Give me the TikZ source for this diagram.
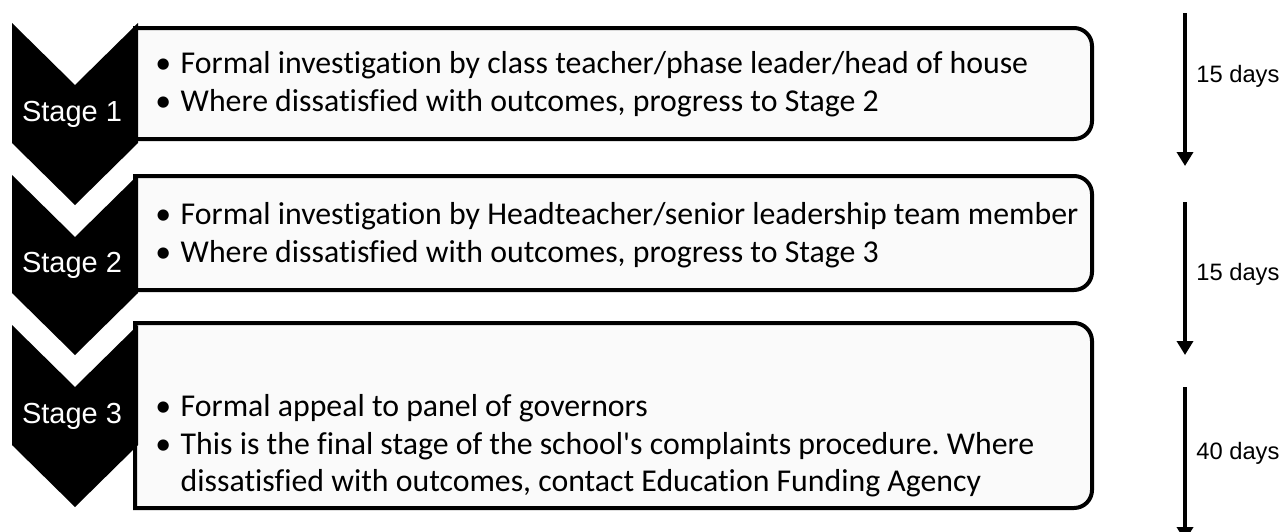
\documentclass[tikz,border=0pt]{standalone}
\usepackage{fontspec}
\setmainfont{Liberation Sans}
\newfontfamily\bodyfont[Ligatures=NoCommon]{Carlito}
\usetikzlibrary{arrows.meta}
\newcommand{\itm}{\textbullet\hspace{0.3em}}
\newcommand{\itmgap}{\phantom{\textbullet}\hspace{0.3em}}
\frenchspacing
\begin{document}
\begin{tikzpicture}[x=0.02cm,y=-0.02cm]
\tikzstyle{every node}+=[inner sep=0pt]
\tikzstyle{stagebox}=[draw=black,line width=0.08cm,fill=black!2]
\tikzstyle{chevron}=[fill=black]
\tikzstyle{stagelabel}=[text=white,font=\fontsize{16.5}{19}\selectfont]
\tikzstyle{itemtext}=[anchor=west,align=left,font=\bodyfont\fontsize{18.1}{21.3}\selectfont]
\tikzstyle{timearrow}=[line width=0.07cm,-{Triangle[length=0.28cm,width=0.32cm]}]
\tikzstyle{daylabel}=[anchor=west,font=\fontsize{13.5}{16}\selectfont]
\useasboundingbox (0,0) rectangle (1283,531);
\draw [stagebox] (135,139) -- (135,28) -- (1074,28) arc[start angle=90,end angle=0,radius=0.36cm] -- (1092,121) arc[start angle=0,end angle=-90,radius=0.36cm] -- cycle;
\draw [stagebox] (135,290) -- (135,176) -- (1074,176) arc[start angle=90,end angle=0,radius=0.36cm] -- (1092,272) arc[start angle=0,end angle=-90,radius=0.36cm] -- cycle;
\draw [stagebox] (135,508) -- (135,323) -- (1074,323) arc[start angle=90,end angle=0,radius=0.36cm] -- (1092,490) arc[start angle=0,end angle=-90,radius=0.36cm] -- cycle;
\fill [chevron] (12,23) -- (75,85) -- (138,23) -- (138,143) -- (75,205) -- (12,143) -- cycle;
\fill [chevron] (12,175) -- (75,237) -- (138,175) -- (138,293) -- (75,355) -- (12,293) -- cycle;
\fill [chevron] (12,325) -- (75,387) -- (138,325) -- (138,445) -- (75,507) -- (12,445) -- cycle;
\node [stagelabel] (s1) at (72,114) {Stage 1};
\node [stagelabel] (s2) at (72,265) {Stage 2};
\node [stagelabel] (s3) at (72,416) {Stage 3};
\node [itemtext] (b1) at (155,84) {\itm Formal investigation by class teacher/phase leader/head of house\\\itm Where dissatisfied with outcomes, progress to Stage 2};
\node [itemtext] (b2) at (155,235) {\itm Formal investigation by Headteacher/senior leadership team member\\\itm Where dissatisfied with outcomes, progress to Stage 3};
\node [itemtext] (b3) at (155,446) {\itm Formal appeal to panel of governors\\\itm This is the final stage of the school's complaints procedure. Where\\\itmgap dissatisfied with outcomes, contact Education Funding Agency};
\coordinate (t1a) at (1185,13);
\coordinate (t1b) at (1185,166);
\coordinate (t2a) at (1185,202);
\coordinate (t2b) at (1185,355);
\coordinate (t3a) at (1185,387);
\coordinate (t3b) at (1185,541);
\draw [timearrow] (t1a) -- (t1b);
\draw [timearrow] (t2a) -- (t2b);
\draw [timearrow] (t3a) -- (t3b);
\node [daylabel] (d1) at (1196,76) {15 days};
\node [daylabel] (d2) at (1196,274) {15 days};
\node [daylabel] (d3) at (1196,453) {40 days};
\end{tikzpicture}
\end{document}
